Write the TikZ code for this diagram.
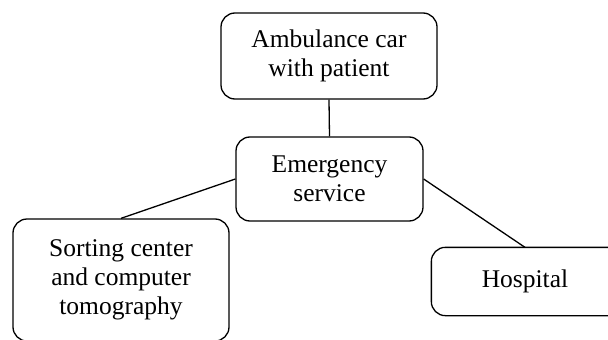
\documentclass[tikz,border=0pt]{standalone}
\usepackage{fontspec}
\setmainfont{Liberation Serif}
\usetikzlibrary{positioning}

\begin{document}
\begin{tikzpicture}[x=1pt,y=-1pt,
  box/.style={draw,line width=1.3pt,rounded corners=14pt,align=center,inner sep=0pt,
    font=\fontsize{25.5}{29}\selectfont},
  link/.style={line width=1.3pt}]
  \useasboundingbox (0,0) rectangle (608,340);
  \clip (0,0) rectangle (608,340);
  \node[box,minimum width=216pt,minimum height=86pt] (amb) at (329,56){Ambulance car\\with patient};
  \node[box,minimum width=187pt,minimum height=84pt] (emerg) at (329.5,179){Emergency\\service};
  \node[box,minimum width=216pt,minimum height=122pt] (sort) at (121,280){Sorting center\\and computer\\tomography};
  \node[box,draw=none,minimum width=186pt,minimum height=67pt] (hosp) at (525,281.5){Hospital};
  % box runs out past the right edge
  \draw[link,rounded corners=14pt] (hosp.south west) rectangle ([xshift=30pt]hosp.north east);
  \draw[link](amb.south)--(emerg.north);
  \draw[link](emerg.west)--(sort.north);
  \draw[link](emerg.east)--(hosp.north);
\end{tikzpicture}
\end{document}
